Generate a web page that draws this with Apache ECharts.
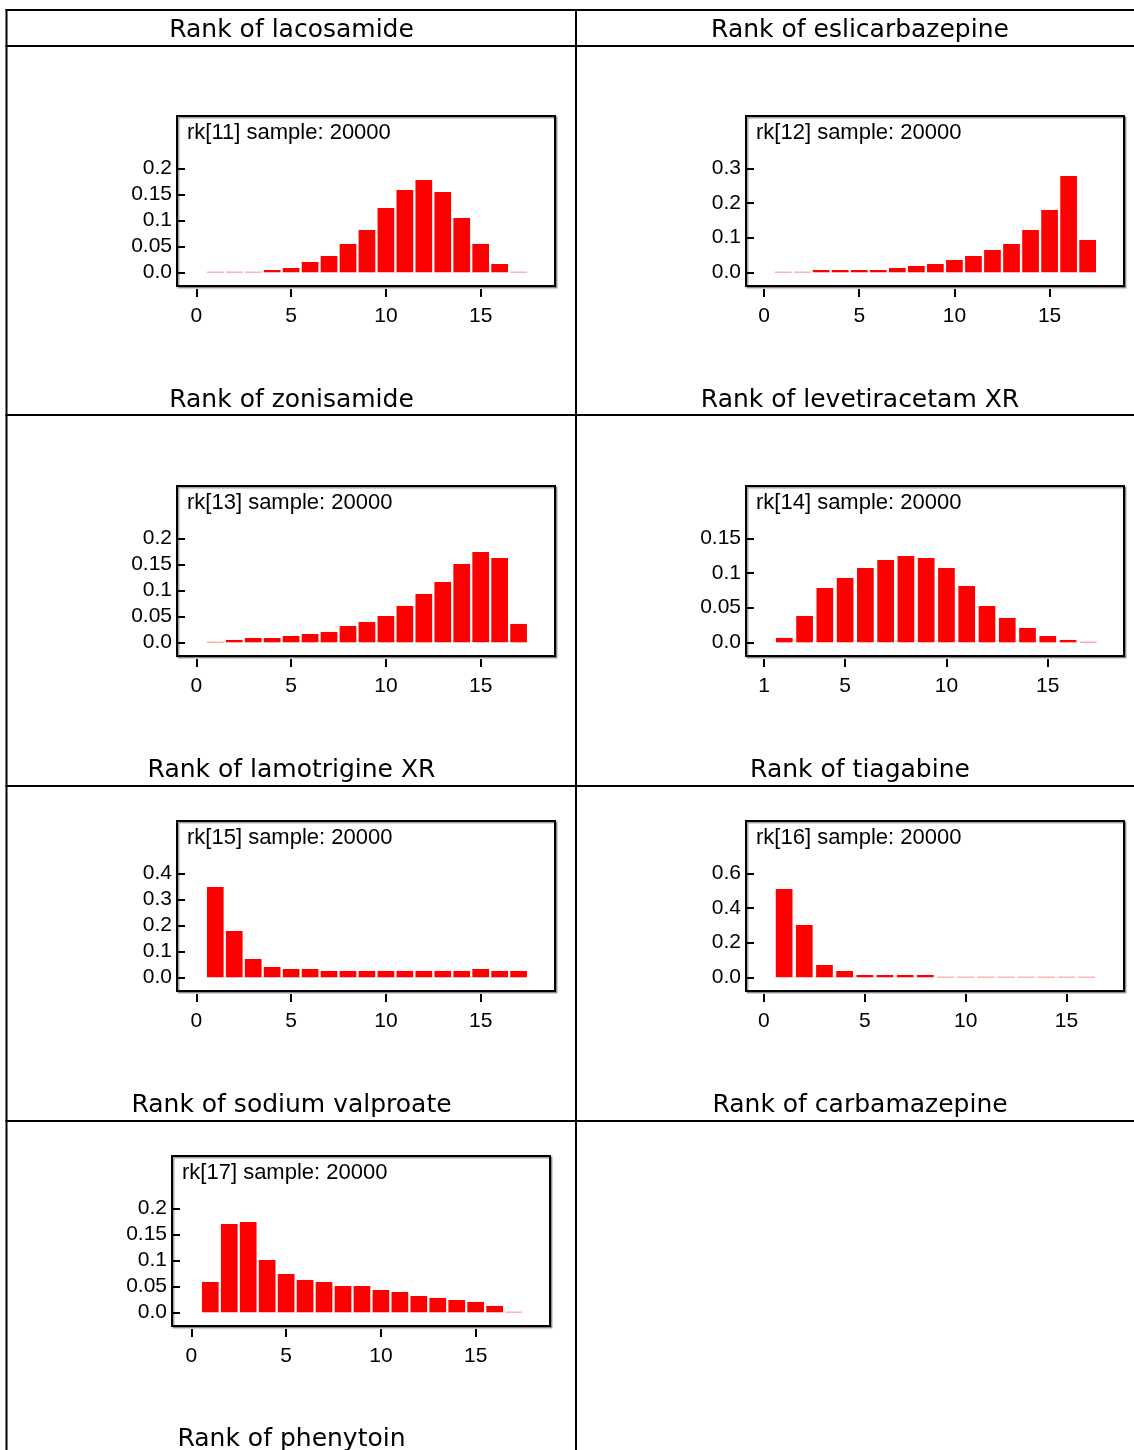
<!DOCTYPE html>
<html><head><meta charset="utf-8">
<script src="https://cdn.jsdelivr.net/npm/echarts@6/dist/echarts.min.js"></script>
<style>html,body{margin:0;padding:0;background:#fff}#c{width:1134px;height:1450px}</style>
</head><body><div id="c"></div>
<script>
// ---- data ----
const ranks = [1,2,3,4,5,6,7,8,9,10,11,12,13,14,15,16,17];
const rk11 = [0.0009,0.0009,0.0009,0.0045,0.0083,0.0199,0.0314,0.0545,0.0814,0.1237,0.1583,0.1776,0.1545,0.1045,0.0545,0.016,0.0009];
const rk12 = [0.0013,0.0013,0.0067,0.0067,0.0067,0.0067,0.0125,0.0183,0.024,0.0356,0.047,0.0644,0.0817,0.122,0.18,0.278,0.0933];
const rk13 = [0.0009,0.0045,0.0083,0.0083,0.0122,0.016,0.0199,0.0314,0.0391,0.0506,0.0699,0.0929,0.116,0.1506,0.1737,0.1622,0.0353];
const rk14 = [0,0.0063,0.038,0.0784,0.0928,0.1072,0.1188,0.1245,0.1216,0.1072,0.0813,0.0524,0.0351,0.0207,0.0091,0.0034,0.0007];
const rk15 = [0.3474,0.178,0.0705,0.0397,0.032,0.032,0.0244,0.0244,0.0244,0.0244,0.0244,0.0244,0.0244,0.0244,0.032,0.0244,0.0244];
const rk16 = [0.5096,0.302,0.0712,0.0365,0.0135,0.0135,0.0135,0.0135,0.0026,0.0026,0.0026,0.0026,0.0026,0.0026,0.0026,0.0026];
const rk17 = [0.0583,0.1699,0.1737,0.1006,0.0737,0.0622,0.0583,0.0506,0.0506,0.0429,0.0391,0.0314,0.0276,0.0237,0.0199,0.0122,0.0009];

const panelNames = ['rk[11]','rk[12]','rk[13]','rk[14]','rk[15]','rk[16]','rk[17]'];
const panelValues = [rk11, rk12, rk13, rk14, rk15, rk16, rk17];
const sampleText = ' sample: 20000';

const yTicks = [
  [0,0.05,0.1,0.15,0.2],
  [0,0.1,0.2,0.3],
  [0,0.05,0.1,0.15,0.2],
  [0,0.05,0.1,0.15],
  [0,0.1,0.2,0.3,0.4],
  [0,0.2,0.4,0.6],
  [0,0.05,0.1,0.15,0.2]
];
const xTicks = [
  [0,5,10,15],[0,5,10,15],[0,5,10,15],[1,5,10,15],[0,5,10,15],[0,5,10,15],[0,5,10,15]
];

const cellTitles = [
  'Rank of lacosamide','Rank of eslicarbazepine',
  'Rank of zonisamide','Rank of levetiracetam XR',
  'Rank of lamotrigine XR','Rank of tiagabine',
  'Rank of sodium valproate','Rank of carbamazepine',
  'Rank of phenytoin'
];

// ---- layout ----
const boxes = [
  {left:177, top:116, xmin:-1.02, xmax:18.92},
  {left:746, top:116, xmin:-0.95, xmax:18.91},
  {left:177, top:486, xmin:-1.02, xmax:18.92},
  {left:746, top:486, xmin:0.11,  xmax:18.76},
  {left:177, top:821, xmin:-1.02, xmax:18.92},
  {left:746, top:821, xmin:-0.89, xmax:17.85},
  {left:172, top:1156, xmin:-1.02, xmax:18.92}
];
const BW = 378, BH = 170;
const titlePos = [
  [291.5,30],[860,30],[291.5,400],[860,400],[291.5,770],[860,770],[291.5,1105],[860,1105],[291.5,1439]
];
const hLines = [10,46,415,786,1121];
const vLines = [6.5,576];
const labelFont = 'Liberation Sans, Arial, sans-serif';

const grids = [], xAxes = [], yAxes = [], series = [], graphics = [];
boxes.forEach((b,i) => {
  const T = yTicks[i][yTicks[i].length-1];
  grids.push({left:b.left, top:b.top, width:BW, height:BH, show:true,
    borderColor:'#000', borderWidth:2, backgroundColor:'#fff',
    shadowColor:'rgba(0,0,0,0.35)', shadowOffsetX:1.5, shadowOffsetY:1.5, shadowBlur:0,
    containLabel:false, outerBoundsMode:'none'});
  xAxes.push({type:'value', gridIndex:i, min:b.xmin, max:b.xmax, position:'bottom', offset:3,
    axisLine:{show:false, onZero:false}, splitLine:{show:false},
    axisTick:{show:true, length:8, lineStyle:{color:'#000', width:2}, customValues:xTicks[i]},
    axisLabel:{show:true, customValues:xTicks[i], margin:17, color:'#000', fontSize:21,
      fontFamily:labelFont}});
  yAxes.push({type:'value', gridIndex:i, min:-T*13.7/104, max:T*156.3/104, position:'left',
    axisLine:{show:false, onZero:false}, splitLine:{show:false},
    axisTick:{show:true, inside:true, length:8, lineStyle:{color:'#000', width:2}, customValues:yTicks[i]},
    axisLabel:{show:true, customValues:yTicks[i], margin:5, color:'#000', fontSize:21,
      fontFamily:labelFont, padding:[5,0,0,0],
      formatter: v => v === 0 ? '0.0' : String(+v.toFixed(3))}});
  const vals = panelValues[i];
  series.push({type:'bar', xAxisIndex:i, yAxisIndex:i, barWidth:16.7,
    itemStyle:{color:'#ff0000'}, silent:true, animation:false,
    data: vals.map((v,k) => [ranks[k], v])});
  graphics.push({type:'text', left:b.left+10, top:b.top+6,
    style:{text:panelNames[i]+sampleText, fill:'#000', font:'22px "Liberation Sans", Arial, sans-serif'}});
});
hLines.forEach(y => graphics.push({type:'line', shape:{x1:5.5, y1:y, x2:1134, y2:y}, style:{stroke:'#000', lineWidth:2}}));
vLines.forEach(x => graphics.push({type:'line', shape:{x1:x, y1:9, x2:x, y2:1450}, style:{stroke:'#000', lineWidth:2}}));
cellTitles.forEach((t,i) => graphics.push({type:'text', x:titlePos[i][0], y:titlePos[i][1],
  style:{text:t, fill:'#000', font:'25px "DejaVu Sans", sans-serif', textAlign:'center', textVerticalAlign:'middle'}}));

const chart = echarts.init(document.getElementById('c'), null, {renderer:'canvas'});
chart.setOption({animation:false, backgroundColor:'#fff', grid:grids, xAxis:xAxes, yAxis:yAxes, series:series, graphic:graphics});
</script></body></html>
